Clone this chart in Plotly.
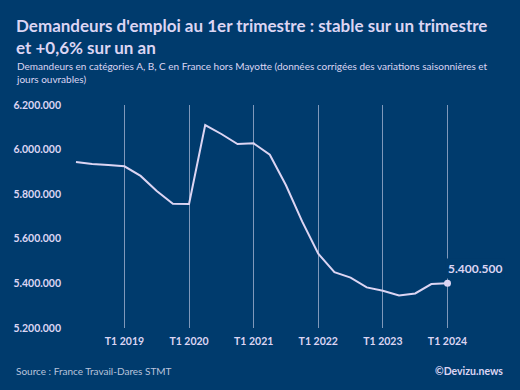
import plotly.graph_objects as go

quarters = ["T2 2018", "T3 2018", "T4 2018",
            "T1 2019", "T2 2019", "T3 2019", "T4 2019",
            "T1 2020", "T2 2020", "T3 2020", "T4 2020",
            "T1 2021", "T2 2021", "T3 2021", "T4 2021",
            "T1 2022", "T2 2022", "T3 2022", "T4 2022",
            "T1 2023", "T2 2023", "T3 2023", "T4 2023",
            "T1 2024"]
demandeurs = [5944000, 5935000, 5931000,
              5925000, 5882000, 5814000, 5757000,
              5756000, 6110000, 6070000, 6025000,
              6028000, 5977000, 5840000, 5678000,
              5533000, 5450000, 5426000, 5382000,
              5367000, 5346000, 5355000, 5397000,
              5400500]
tick_labels = ["T1 2019", "T1 2020", "T1 2021", "T1 2022", "T1 2023", "T1 2024"]
y_ticks = [5200000, 5400000, 5600000, 5800000, 6000000, 6200000]

BG = "#003b6d"
TXT = "#dcd5f3"
GRID = "#7f98ba"
FONT = "Lato"

L, R, T, B = 70, 15, 105, 62
PW, PH = 520 - L - R, 390 - T - B


def px_x(x):
    return (x - L) / PW


def px_y(y):
    return (390 - B - y) / PH


fig = go.Figure()
fig.add_trace(go.Scatter(x=quarters, y=demandeurs, mode="lines",
                         line=dict(color=TXT, width=2), hoverinfo="skip"))
fig.add_trace(go.Scatter(x=[quarters[-1]], y=[demandeurs[-1]], mode="markers",
                         marker=dict(color=TXT, size=7), hoverinfo="skip"))

last_lbl = f"{demandeurs[-1]:,}".replace(",", ".")
fig.add_annotation(x=quarters[-1], y=demandeurs[-1], text=f"<b>{last_lbl}</b>",
                   showarrow=False, xanchor="left", yanchor="bottom",
                   xshift=-3, yshift=4, bgcolor=BG, borderpad=2,
                   font=dict(family=FONT, size=12, color=TXT))

fig.update_layout(
    width=520, height=390,
    paper_bgcolor=BG, plot_bgcolor=BG,
    separators=",.",
    showlegend=False,
    margin=dict(l=L, r=R, t=T, b=B),
    font=dict(family=FONT, color=TXT),
    xaxis=dict(type="category", categoryorder="array", categoryarray=quarters,
               range=[-0.37, 26.56], tickvals=tick_labels,
               ticktext=[f"<b>{t}</b>" for t in tick_labels],
               showgrid=True, gridcolor=GRID, gridwidth=1,
               zeroline=False, showline=False, ticks="",
               ticklabelstandoff=5,
               tickfont=dict(family=FONT, size=10.5, color=TXT)),
    yaxis=dict(range=[5200000, 6200000], tickvals=y_ticks,
               ticktext=[f"<b>{v:,}</b>".replace(",", ".") for v in y_ticks],
               showgrid=False, zeroline=False, showline=False, ticks="",
               ticklabelstandoff=8,
               tickfont=dict(family=FONT, size=10.5, color=TXT)),
)

fig.add_annotation(xref="paper", yref="paper", x=px_x(14), y=px_y(13),
                   xanchor="left", yanchor="top", align="left", showarrow=False,
                   text="<b>Demandeurs d'emploi au 1er trimestre : stable sur un trimestre<br>et +0,6% sur un an</b>",
                   font=dict(family=FONT, size=17, color=TXT))
fig.add_annotation(xref="paper", yref="paper", x=px_x(14), y=px_y(58),
                   xanchor="left", yanchor="top", align="left", showarrow=False,
                   text="Demandeurs en catégories A, B, C en France hors Mayotte (données corrigées des variations saisonnières et<br>jours ouvrables)",
                   font=dict(family=FONT, size=10, color=TXT))
fig.add_annotation(xref="paper", yref="paper", x=px_x(14), y=px_y(371),
                   xanchor="left", yanchor="middle", showarrow=False,
                   text="Source : France Travail-Dares STMT",
                   font=dict(family=FONT, size=10, color="#b9c3dc"))
fig.add_annotation(xref="paper", yref="paper", x=px_x(505), y=px_y(371),
                   xanchor="right", yanchor="middle", showarrow=False,
                   text="<b>©Devizu.news</b>",
                   font=dict(family=FONT, size=10.5, color=TXT))

fig.write_html("out.html", config={"displayModeBar": False},
               post_script="document.body.style.margin='0';document.body.style.background='%s';" % BG)
